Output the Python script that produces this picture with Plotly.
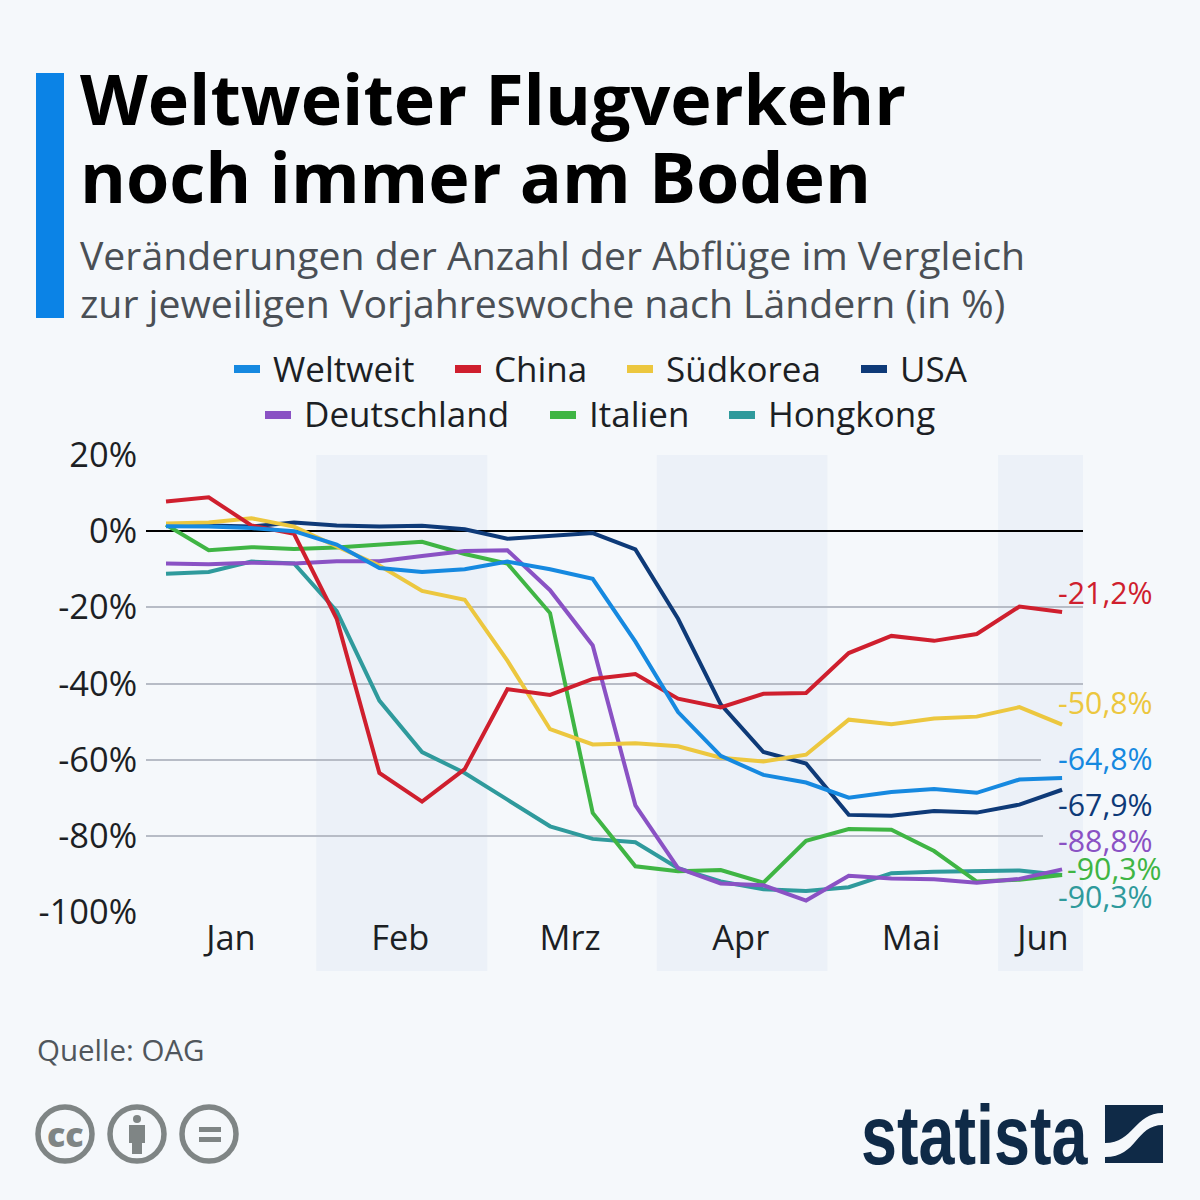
import plotly.graph_objects as go

# ---------- data ----------
weeks = list(range(22))
weltweit = [1.3,1.2,0.8,0,-3.5,-9.7,-10.7,-10,-8,-10,-12.5,-29,-47.5,-59,-64,-66,-70,-68.5,-67.7,-68.7,-65.2,-64.8]
china = [7.8,8.9,1.5,-0.7,-23,-63.5,-71,-62.5,-41.5,-43,-38.8,-37.5,-44,-46.3,-42.7,-42.5,-32,-27.5,-28.8,-27,-19.8,-21.2]
suedkorea = [2,2.3,3.4,1.2,-4,-9,-15.7,-18,-34,-52,-56,-55.7,-56.5,-59.5,-60.5,-58.7,-49.5,-50.7,-49.2,-48.7,-46.2,-50.8]
usa = [1.5,1.5,1.2,2.3,1.5,1.2,1.4,0.5,-2,-1.2,-0.5,-4.8,-23,-45.5,-58,-61,-74.5,-74.7,-73.5,-73.9,-71.8,-67.9]
deutschland = [-8.5,-8.7,-8.3,-8.5,-7.9,-7.9,-6.5,-5.2,-5,-15.5,-30,-72,-88.5,-92.5,-93,-97,-90.5,-91.2,-91.4,-92.3,-91.3,-88.8]
italien = [1.7,-5,-4.2,-4.7,-4.3,-3.5,-2.8,-6,-8.5,-21.5,-74,-88,-89.3,-89,-92.3,-81.3,-78.2,-78.4,-84,-92,-91.5,-90.3]
hongkong = [-11.2,-10.7,-8,-8.5,-21,-44.5,-58,-63.5,-70.5,-77.5,-80.8,-81.7,-88.5,-92,-94,-94.5,-93.5,-89.8,-89.4,-89.2,-89.1,-90.3]

month_labels = ["Jan","Feb","Mrz","Apr","Mai","Jun"]
month_ticks = [1.52,5.49,9.47,13.47,17.46,20.55]
y_ticks = [20,0,-20,-40,-60,-80,-100]
y_ticktext = ["20%","0%","-20%","-40%","-60%","-80%","-100%"]
end_labels = ["-64,8%","-21,2%","-50,8%","-67,9%","-88,8%","-90,3%","-90,3%"]
names = ["Weltweit","China","Südkorea","USA","Deutschland","Italien","Hongkong"]
colors = ["#1689e0","#cf1f2e","#ecc73f","#0e3a78","#8a52c4","#3fb544","#2f9a9c"]
series = [weltweit,china,suedkorea,usa,deutschland,italien,hongkong]
bands = [(3.52,7.53),(11.5,15.5),(19.5,21.49)]

# ---------- helpers (pixel -> paper) ----------
W = H = 1200
fx = lambda p: p / W
fy = lambda p: 1 - p / H
BG = "#f5f8fb"
BAND = "#ecf1f8"
FONT = "Open Sans"

fig = go.Figure()
for i in range(len(names) - 1, -1, -1):
    fig.add_trace(go.Scatter(x=weeks, y=series[i], mode="lines", name=names[i], showlegend=False,
                             line=dict(color=colors[i], width=4, shape="linear"), hoverinfo="name+y"))

shapes, ann = [], []

def text(x, y, s, size, color, anchor="left", weight=400, family=FONT):
    ann.append(dict(xref="paper", yref="paper", x=fx(x), y=fy(y), text=s, showarrow=False,
                    xanchor=anchor, yanchor="middle", align=anchor,
                    font=dict(family=family, size=size, color=color, weight=weight)))

def rect(x0, y0, x1, y1, color, layer="above"):
    shapes.append(dict(type="rect", xref="paper", yref="paper", x0=fx(x0), x1=fx(x1), y0=fy(y0), y1=fy(y1),
                       fillcolor=color, line_width=0, layer=layer))

def circle(cx, cy, r, fill, line=None, lw=0):
    shapes.append(dict(type="circle", xref="paper", yref="paper", x0=fx(cx-r), x1=fx(cx+r), y0=fy(cy-r), y1=fy(cy+r),
                       fillcolor=fill, line=dict(color=line or fill, width=lw)))

def path(pts, color):
    d = ""
    for cmd, coords in pts:
        d += cmd + " ".join(f"{fx(coords[k]):.5f},{fy(coords[k+1]):.5f}" for k in range(0, len(coords), 2)) + " "
    shapes.append(dict(type="path", xref="paper", yref="paper", path=d + "Z", fillcolor=color, line_width=0))

# month bands
for a, b in bands:
    shapes.append(dict(type="rect", xref="x", yref="paper", x0=a, x1=b, y0=fy(971), y1=fy(455),
                       fillcolor=BAND, line_width=0, layer="below"))

# gridlines stop short behind the two end labels that sit on them
rect(1041, 758, 1084, 762, BAND)
rect(1043, 834, 1084, 838, BAND)

# heading
rect(36, 73, 64, 318, "#0b83e6")
text(78, 98, "Weltweiter Flugverkehr", 70, "#000000", weight=700)
text(78, 176, "noch immer am Boden", 70, "#000000", weight=700)
text(78, 254, "Veränderungen der Anzahl der Abflüge im Vergleich", 39.2, "#4a4f55")
text(78, 302, "zur jeweiligen Vorjahreswoche nach Ländern (in %)", 39.2, "#4a4f55")

# legend
legend_pos = [(234,369),(455,369),(627,369),(861,369),(265,415),(550,415),(729,415)]
for (x, y), n, c in zip(legend_pos, names, colors):
    rect(x, y-4, x+26, y+4, c)
    text(x+37, y-1, n, 35, "#1c1f24")

# end labels
label_pos = [(1056,758),(1056,592),(1056,702),(1056,805),(1056,840),(1065,868),(1056,896)]
for (x, y), s, c in zip(label_pos, end_labels, colors):
    text(x, y, s, 30.3, c, weight=500)

# footer
text(35, 1049, "Quelle: OAG", 29.5, "#50565c")
GR = "#7f8585"
for cx in (65, 137, 209):
    circle(cx, 1134, 27, "rgba(0,0,0,0)", GR, 5.5)
text(65, 1134, "cc", 34, GR, anchor="center", weight=800)
circle(137, 1119, 4, GR)
rect(129, 1125, 145, 1143, GR)
rect(132, 1143, 142, 1154, GR)
rect(199, 1127, 221, 1132, GR)
rect(199, 1137, 221, 1142, GR)

# statista logo
NAVY = "#0f2a47"
text(1090, 1135, "statista", 84, NAVY, anchor="right", weight=700, family="Liberation Sans")
path([("M",[1105,1105]),("L",[1163,1105]),("L",[1163,1113]),("C",[1134,1113,1134,1143,1105,1143])], NAVY)
path([("M",[1105,1157]),("C",[1138,1157,1135,1125,1163,1125]),("L",[1163,1163]),("L",[1105,1163])], NAVY)

fig.update_layout(
    width=W, height=H, margin=dict(l=0, r=0, t=0, b=0, pad=0, autoexpand=False), paper_bgcolor=BG,
    plot_bgcolor="rgba(0,0,0,0)",
    showlegend=False, shapes=shapes, annotations=ann, font=dict(family=FONT),
    xaxis=dict(domain=[fx(146), fx(1083)], range=[-0.469, 21.49], tickmode="array", tickvals=month_ticks,
               ticktext=month_labels, showgrid=False, zeroline=False, ticks="", ticklabelstandoff=3, automargin=False,
               tickfont=dict(size=34.4, color="#1c1f24", family=FONT), showline=False),
    yaxis=dict(domain=[fy(912), fy(455)], range=[-100, 20], tickmode="array", tickvals=y_ticks, automargin=False,
               ticktext=y_ticktext, showgrid=True, gridcolor="#b7bcc6", gridwidth=1.5, zeroline=True,
               zerolinecolor="#000000", zerolinewidth=1.5, ticks="outside", ticklen=1,
               tickcolor="rgba(0,0,0,0)", tickfont=dict(size=34.4, color="#1c1f24", family=FONT), showline=False),
)
squeeze = """
document.body.style.margin='0';
document.querySelectorAll('.annotation-text').forEach(function(t){
  if(t.textContent==='statista'){
    var b=t.getBBox(), ax=b.x+b.width;
    var old=t.getAttribute('transform')||'';
    t.setAttribute('transform','translate('+ax+' 0) scale(0.77 1) translate('+(-ax)+' 0) '+old);
  }
});
"""
fig.write_html("out.html", post_script=squeeze, config={"displayModeBar": False})
